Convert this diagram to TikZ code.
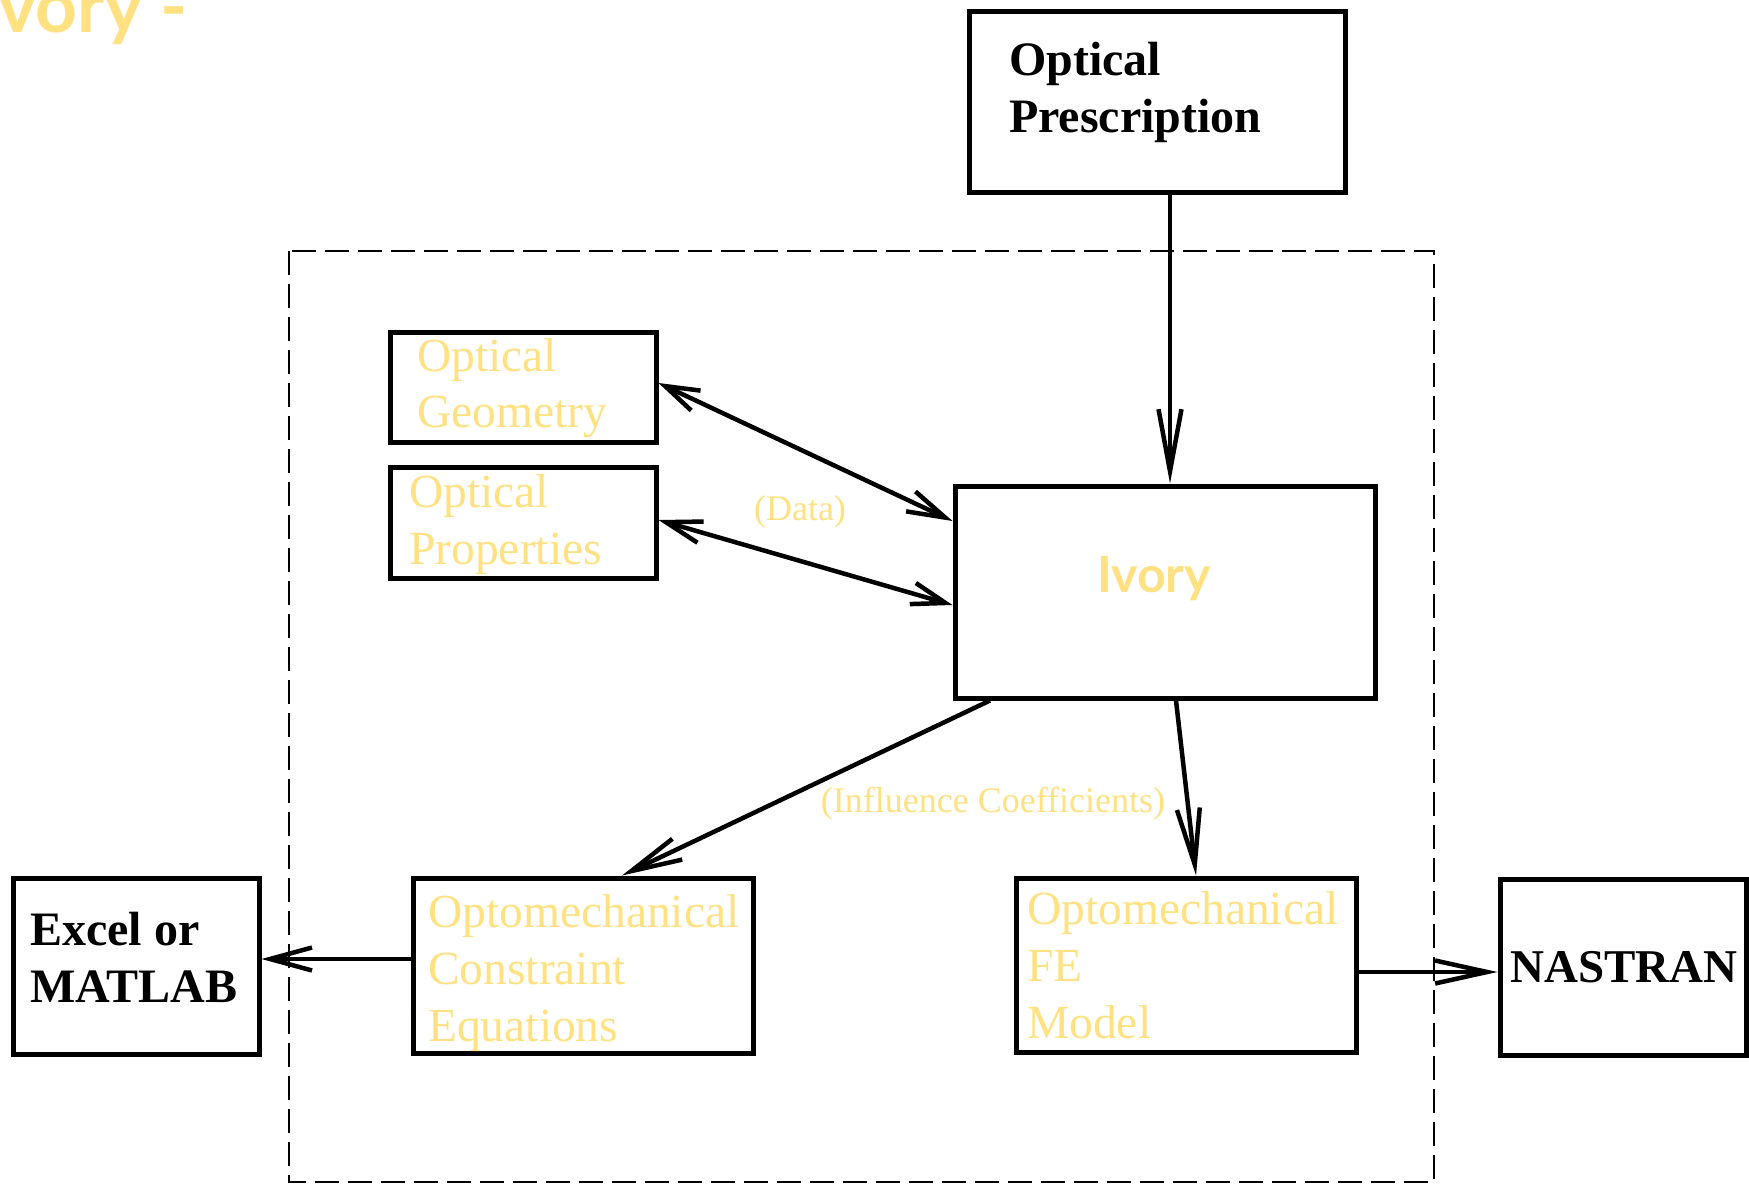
\documentclass[tikz,border=0pt]{standalone}
\usepackage{fontspec}
\setmainfont{Liberation Serif}
\newfontfamily\headfont{Lato}
\usetikzlibrary{arrows.meta}
\definecolor{ivorygold}{RGB}{255,225,130}
\tikzset{
  box/.style={draw, line width=5pt, rectangle, inner sep=0pt},
  arr/.style={line width=4.5pt, -{Straight Barb[length=#1, width=23pt, line width=4.5pt]}},
  arr/.default=42pt,
  biarr/.style 2 args={line width=4.5pt, {Straight Barb[length=#1, width=22pt, line width=4.5pt]}-{Straight Barb[length=#2, width=22pt, line width=4.5pt]}},
  boldtxt/.style={anchor=base west, align=left, inner sep=0pt, font=\fontsize{48}{57}\selectfont\bfseries},
  goldtxt/.style={anchor=base west, align=left, inner sep=0pt, text=ivorygold, font=\fontsize{47.5}{57}\selectfont},
  lbl/.style={anchor=base, inner sep=0pt, text=ivorygold, font=\fontsize{36}{40}\selectfont},
  frame/.style={draw, line width=2.2pt, dash pattern=on 24pt off 9pt}
}
\begin{document}
\begin{tikzpicture}[x=1pt, y=-1pt]
  \clip (0,0) rectangle (1749,1186);
  \fill[white] (0,0) rectangle (1749,1186);

  % heading, running off the top left corner
  \node[anchor=base west, inner sep=0pt, text=ivorygold, font=\fontsize{73}{80}\selectfont\headfont\bfseries] (title) at (-23,32) {Ivory -};

  % dashed outline of the Ivory environment
  \draw[frame] (289,251) rectangle (1434,1182);

  % boxes
  \node[box, minimum width=376pt, minimum height=181pt] (presc) at (1157,101.5) {};
  \node[box, minimum width=266pt, minimum height=110pt] (geom) at (523,387) {};
  \node[box, minimum width=266pt, minimum height=111pt] (props) at (523,522.5) {};
  \node[box, minimum width=420pt, minimum height=212pt] (ivory) at (1165,592) {};
  \node[box, minimum width=246pt, minimum height=176pt] (excel) at (136,966) {};
  \node[box, minimum width=340pt, minimum height=175pt] (oce) at (583,965.5) {};
  \node[box, minimum width=340pt, minimum height=174pt] (ofe) at (1186,965) {};
  \node[box, minimum width=246pt, minimum height=176pt] (nastran) at (1623,967) {};

  % box texts (each node sits on the baseline of its last line)
  \node[boldtxt] (presctxt) at (1009,132) {Optical\\Prescription};
  \node[goldtxt, font=\fontsize{47.5}{56}\selectfont] (geomtxt) at (417,427) {Optical\\Geometry};
  \node[goldtxt] (propstxt) at (409,564) {Optical\\Properties};
  \node[anchor=base, inner sep=0pt, text=ivorygold, font=\fontsize{50}{60}\selectfont\headfont\bfseries] (ivorytxt) at (1154,592) {Ivory};
  \node[boldtxt] (exceltxt) at (30,1002) {Excel or\\MATLAB};
  \node[goldtxt] (ocetxt) at (428,1041) {Optomechanical\\Constraint\\Equations};
  \node[goldtxt] (ofetxt) at (1027,1038) {Optomechanical\\FE\\Model};
  \node[boldtxt, anchor=base, font=\fontsize{47}{57}\selectfont\bfseries] (nastrantxt) at (1624,982) {NASTRAN};

  % connector labels
  \node[lbl] (datalbl) at (800,520) {(Data)};
  \node[lbl] (inflbl) at (993,812) {(Influence Coefficients)};

  % connectors
  \draw[arr=62pt] ([xshift=13pt]presc.south) -- ([xshift=5pt]ivory.north);
  \draw[biarr={34pt}{38pt}] ([yshift=4pt]geom.east) -- ([yshift=71pt]ivory.west);
  \draw[biarr={36pt}{34pt}] ([yshift=2.5pt]props.east) -- ([yshift=-13pt]ivory.west);
  \draw[arr=51pt] ([xshift=-175pt]ivory.south) -- ([xshift=39pt]oce.north);
  \draw[arr=56pt] ([xshift=11pt]ivory.south) -- ([xshift=10pt]ofe.north);
  \draw[arr=42pt] ([yshift=6.5pt]oce.west) -- ([yshift=7pt]excel.east);
  \draw[arr=52pt] ([yshift=-7pt]ofe.east) -- ([yshift=-5pt]nastran.west);
\end{tikzpicture}
\end{document}
